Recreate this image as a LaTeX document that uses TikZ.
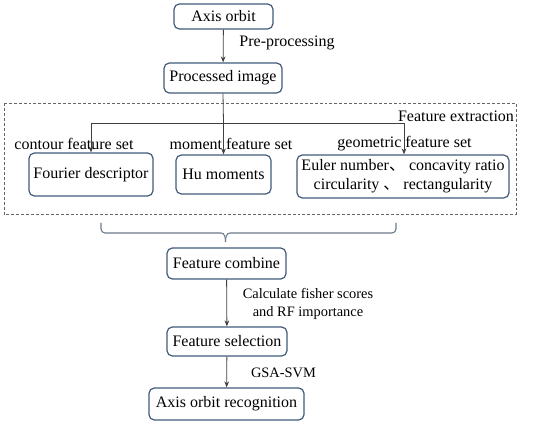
\documentclass[tikz,border=0pt]{standalone}
\usepackage{fontspec}
\setmainfont{Liberation Serif}
\newfontfamily\cjk{Noto Sans CJK SC}
\usetikzlibrary{arrows.meta}
\definecolor{boxc}{HTML}{41597A}
\definecolor{linec}{HTML}{404040}
\definecolor{bracec}{HTML}{6B7A88}
\begin{document}
\begin{tikzpicture}[x=0.75pt,y=-0.75pt,
  box/.style={draw=boxc,line width=0.9pt,rounded corners=4pt,inner sep=0pt,align=center,font=\fontsize{12}{14.5}\selectfont},
  lab/.style={inner sep=0pt,font=\fontsize{12}{14}\selectfont},
  slab/.style={inner sep=0pt,align=center,font=\fontsize{10.8}{13.3}\selectfont},
  arr/.style={draw=linec,line width=0.6pt,-{Stealth[length=4.5pt,width=3.5pt]}},
  ln/.style={draw=linec,line width=0.6pt}]
\useasboundingbox (0,0) rectangle (550,424);
% dashed feature extraction region
\draw[gray!80!black,line width=0.6pt,dash pattern=on 2.2pt off 1.5pt] (4,103) rectangle (516,214);
% boxes
\node[box,minimum width=99*0.75pt,minimum height=25*0.75pt] (axis) at (223.5,16.5) {Axis orbit};
\node[box,minimum width=118*0.75pt,minimum height=30*0.75pt] (proc) at (223,78) {Processed image};
\node[box,minimum width=124*0.75pt,minimum height=43*0.75pt] (four) at (91,174.5) {Fourier descriptor};
\node[box,minimum width=95*0.75pt,minimum height=39*0.75pt] (hu) at (223.5,174.5) {Hu moments};
\node[box,minimum width=212*0.75pt,minimum height=43*0.75pt] (euler) at (403,176.5) {Euler number{\cjk 、} concavity ratio\\circularity {\cjk 、} rectangularity};
\node[box,minimum width=119*0.75pt,minimum height=31*0.75pt] (comb) at (226.5,263.5) {Feature combine};
\node[box,minimum width=120*0.75pt,minimum height=29*0.75pt] (sel) at (227,341.5) {Feature selection};
\node[box,minimum width=155*0.75pt,minimum height=32*0.75pt] (rec) at (226.5,404) {Axis orbit recognition};
% labels
\node[lab] (lpre) at (287,43) {Pre-processing};
\node[lab] (lfe) at (456,116) {Feature extraction};
\node[lab] (lcon) at (74,144) {contour feature set};
\node[lab] (lmom) at (231,144) {moment feature set};
\node[lab] (lgeo) at (404.5,144) {geometric feature set};
\node[slab] (lcalc) at (308,304) {Calculate fisher scores\\and RF importance};
\node[slab] (lgsa) at (283.5,373) {GSA-SVM};
% connectors
\draw[arr] (axis) -- (proc);
\coordinate (j) at (223.5,123);
\coordinate (jl) at (91,123);
\coordinate (jr) at (404,123);
\draw[ln] (proc.south) -- (j);
\draw[ln] (jl) -- (jr);
\draw[arr] (jl) -- (four.north);
\draw[arr] (j) -- (hu.north);
\draw[arr] (jr) -- (euler.north -| jr);
% brace
\coordinate (bl) at (101,223);
\coordinate (br) at (396,223);
\coordinate (bt) at (225.5,242);
\draw[bracec,line width=0.8pt,rounded corners=3pt] (bl) -- (101,233) -- (221,233);
\draw[bracec,line width=0.8pt,rounded corners=3pt] (br) -- (396,233) -- (230,233);
\draw[bracec,line width=0.8pt] (221,233) to[out=0,in=90] (bt);
\draw[bracec,line width=0.8pt] (230,233) to[out=180,in=90] (bt);
\draw[arr] (comb) -- (sel);
\draw[arr] (sel) -- (rec);
\end{tikzpicture}
\end{document}
